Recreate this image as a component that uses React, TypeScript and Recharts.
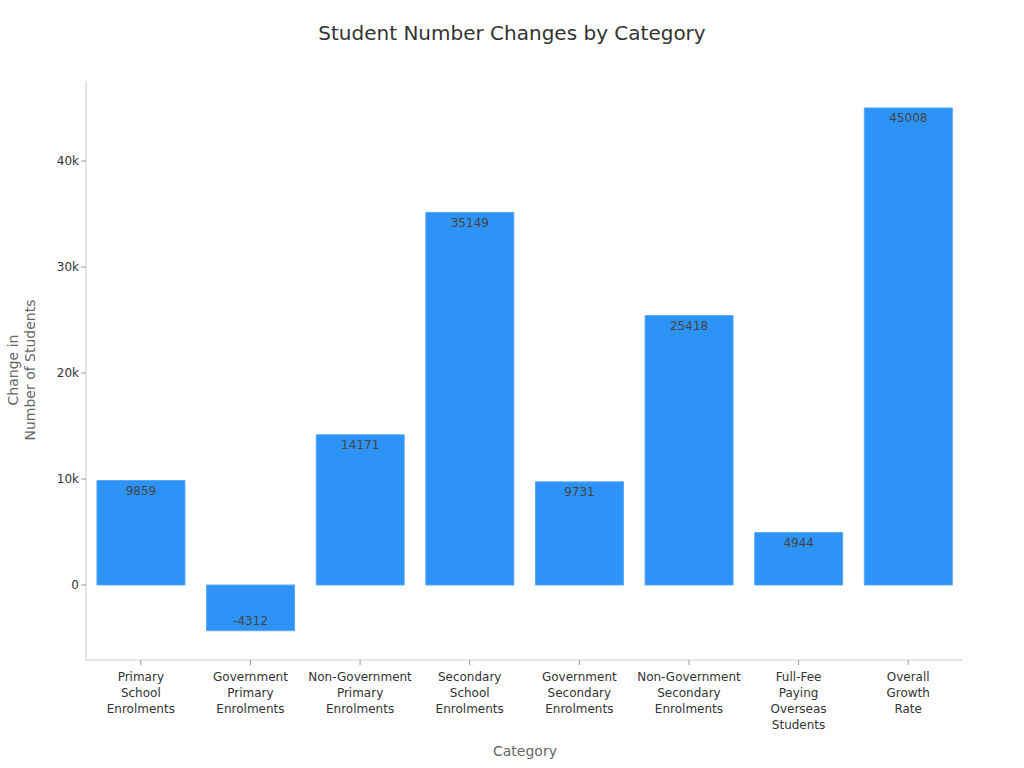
import React from 'react';
import { BarChart, Bar, XAxis, YAxis, LabelList } from 'recharts';

const categories = [
  'Primary School Enrolments',
  'Government Primary Enrolments',
  'Non-Government Primary Enrolments',
  'Secondary School Enrolments',
  'Government Secondary Enrolments',
  'Non-Government Secondary Enrolments',
  'Full-Fee Paying Overseas Students',
  'Overall Growth Rate',
];
const changes = [9859, -4312, 14171, 35149, 9731, 25418, 4944, 45008];
const yTicks = [0, 10000, 20000, 30000, 40000];

const data = categories.map((name, i) => ({ name, value: changes[i] }));

const FONT = 'DejaVu Sans, sans-serif';

const CategoryTick = (props: any) => {
  const { x, y, payload } = props;
  const lines = String(payload.value).split(' ');
  return (
    <text x={x} y={y} textAnchor="middle" fill="#333" fontSize={12} fontFamily={FONT}>
      {lines.map((l, i) => (
        <tspan key={i} x={x} dy={i === 0 ? 14 : 16}>
          {l}
        </tspan>
      ))}
    </text>
  );
};

const fmt = (v: number) => (v === 0 ? '0' : `${v / 1000}k`);

export default function App() {
  return (
    <div style={{ position: 'absolute', left: 0, top: 0, width: 1024, height: 768, fontFamily: FONT }}>
      <BarChart
        width={1024}
        height={768}
        data={data}
        margin={{ top: 81, right: 61, bottom: 0, left: 1 }}
        barCategoryGap="10%"
      >
        <XAxis
          dataKey="name"
          height={108}
          interval={0}
          tick={<CategoryTick />}
          tickSize={5}
          axisLine={{ stroke: '#ccc' }}
          tickLine={{ stroke: '#999' }}
        />
        <YAxis
          width={85}
          domain={[-7075, 47550]}
          ticks={yTicks}
          tickFormatter={fmt}
          tickSize={5}
          tick={{ fill: '#333', fontSize: 12, fontFamily: FONT }}
          axisLine={{ stroke: '#ccc' }}
          tickLine={{ stroke: '#999' }}
        />
        <Bar dataKey="value" fill="#2E93F7" stroke="#58a8f6" strokeWidth={1} isAnimationActive={false}>
          <LabelList dataKey="value" position="insideTop" offset={6} fill="#444" fontSize={12} fontFamily={FONT} />
        </Bar>
        <text x={512} y={40} textAnchor="middle" fontSize={20} fill="#333" fontFamily={FONT}>
          Student Number Changes by Category
        </text>
        <text x={525} y={756} textAnchor="middle" fontSize={14} fill="#666" fontFamily={FONT}>
          Category
        </text>
        <text transform="translate(18,370) rotate(-90)" textAnchor="middle" fontSize={14} fill="#666" fontFamily={FONT}>
          Change in
        </text>
        <text transform="translate(35,370) rotate(-90)" textAnchor="middle" fontSize={14} fill="#666" fontFamily={FONT}>
          Number of Students
        </text>
      </BarChart>
    </div>
  );
}
